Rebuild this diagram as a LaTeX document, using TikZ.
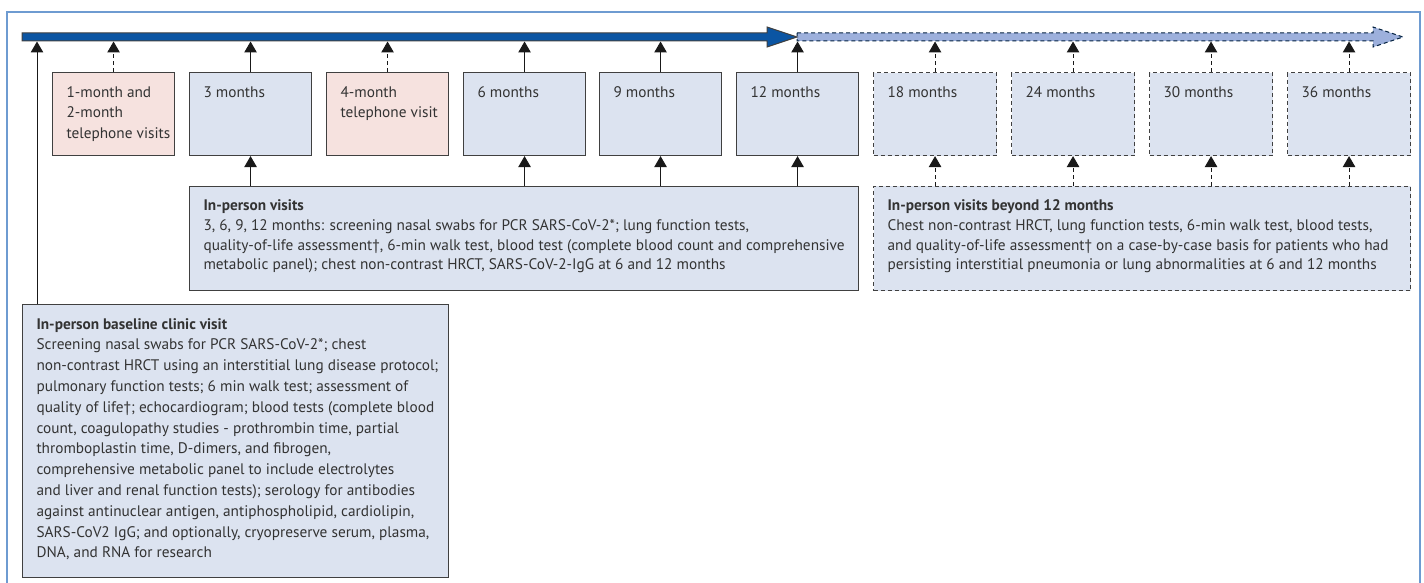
\documentclass[tikz,border=0pt]{standalone}
\usepackage{fontspec}
\setmainfont{PT Sans}
\usetikzlibrary{arrows.meta}
\definecolor{boxblue}{HTML}{DCE3F0}
\definecolor{boxpink}{HTML}{F6E2DF}
\definecolor{bordergray}{HTML}{404040}
\definecolor{txtgray}{HTML}{333333}
\definecolor{bardark}{HTML}{0B55A3}
\definecolor{barlight}{HTML}{9DB0DC}
\definecolor{framecol}{HTML}{6E9BD1}
% height, width, font size, leading, text
\newcommand\bxt[5]{\parbox[c][#1][t]{#2}{\leftskip=14pt\rightskip=-60pt plus 1fil\parindent=0pt\fontsize{#3}{#4}\selectfont\rule{0pt}{24.5pt}#5}}
\tikzset{
  box/.style={draw=bordergray, line width=1.1pt, fill=boxblue, inner sep=0pt, anchor=north west, text=txtgray},
  pinkbox/.style={box, fill=boxpink},
  dbox/.style={box, dash pattern=on 4pt off 3pt},
  arr/.style={draw=black!90, line width=1pt, -{Triangle[length=11pt,width=12.5pt]}},
  darr/.style={arr, dash pattern=on 4pt off 3pt},
  framel/.style={draw=framecol, line width=1.6pt},
}
\begin{document}
\begin{tikzpicture}[x=1pt,y=-1pt]
\useasboundingbox (0,0) rectangle (1424,583);
% outer frame
\draw[framel] (7,583) -- (7,12) -- (1420,12) -- (1420,583);
% timeline bars
\draw[draw=bardark!40!black, line width=1pt, fill=barlight, dash pattern=on 4pt off 3pt]
  (797,33) -- (1373,33) -- (1373,27) -- (1403,37) -- (1373,47) -- (1373,41) -- (797,41) -- cycle;
\draw[draw=black!75, line width=1pt, fill=bardark]
  (22,33) -- (767,33) -- (767,27) -- (797,37) -- (767,47) -- (767,41) -- (22,41) -- cycle;
\coordinate (barbot) at (0,41.5);
% month boxes
\node[pinkbox] (m1) at (52,72) {\bxt{83pt}{122pt}{15.3}{20.8}{1-month and\\2-month\\telephone visits}};
\node[box] (m2) at (189,72) {\bxt{83pt}{122pt}{15.3}{20.8}{3 months}};
\node[pinkbox] (m3) at (326,72) {\bxt{83pt}{122pt}{15.3}{20.8}{4-month\\telephone visit}};
\node[box] (m4) at (463,72) {\bxt{83pt}{122pt}{15.3}{20.8}{6 months}};
\node[box] (m5) at (599,72) {\bxt{83pt}{122pt}{15.3}{20.8}{9 months}};
\node[box] (m6) at (736,72) {\bxt{83pt}{122pt}{15.3}{20.8}{12 months}};
\node[dbox] (m7) at (873,72) {\bxt{83pt}{123pt}{15.3}{20.8}{18 months}};
\node[dbox] (m8) at (1011,72) {\bxt{83pt}{123pt}{15.3}{20.8}{24 months}};
\node[dbox] (m9) at (1149,72) {\bxt{83pt}{123pt}{15.3}{20.8}{30 months}};
\node[dbox] (m10) at (1287,72) {\bxt{83pt}{123pt}{15.3}{20.8}{36 months}};
% in-person visits
\node[box] (ip) at (189,185.5) {\bxt{104.5pt}{669pt}{15.3}{19.8}{\textbf{In-person visits}\\3, 6, 9, 12 months: screening nasal swabs for PCR SARS-CoV-2*; lung function tests,\\quality-of-life assessment†, 6-min walk test, blood test (complete blood count and comprehensive\\metabolic panel); chest non-contrast HRCT, SARS-CoV-2-IgG at 6 and 12 months}};
\node[dbox] (bt) at (873,185.5) {\bxt{104.5pt}{537pt}{15.3}{19.8}{\textbf{In-person visits beyond 12 months}\\Chest non-contrast HRCT, lung function tests, 6-min walk test, blood tests,\\and quality-of-life assessment† on a case-by-case basis for patients who had\\persisting interstitial pneumonia or lung abnormalities at 6 and 12 months}};
% baseline
\node[box] (bl) at (22,304) {\bxt{273pt}{426pt}{15.3}{20.8}{\textbf{In-person baseline clinic visit}\\Screening nasal swabs for PCR SARS-CoV-2*; chest\\non-contrast HRCT using an interstitial lung disease protocol;\\pulmonary function tests; 6 min walk test; assessment of\\quality of life†; echocardiogram; blood tests (complete blood\\count, coagulopathy studies - prothrombin time, partial\\thromboplastin time, D-dimers, and fibrogen,\\comprehensive metabolic panel to include electrolytes\\and liver and renal function tests); serology for antibodies\\against antinuclear antigen, antiphospholipid, cardiolipin,\\SARS-CoV2 IgG; and optionally, cryopreserve serum, plasma,\\DNA, and RNA for research}};
% arrows to timeline
\draw[arr] ([xshift=15pt]bl.north west) coordinate (lv) -- (lv |- barbot);
\draw[darr] (m1.north) -- (m1.north |- barbot);
\draw[arr] (m2.north) -- (m2.north |- barbot);
\draw[darr] (m3.north) -- (m3.north |- barbot);
\draw[arr] (m4.north) -- (m4.north |- barbot);
\draw[arr] (m5.north) -- (m5.north |- barbot);
\draw[arr] (m6.north) -- (m6.north |- barbot);
\draw[darr] (m7.north) -- (m7.north |- barbot);
\draw[darr] (m8.north) -- (m8.north |- barbot);
\draw[darr] (m9.north) -- (m9.north |- barbot);
\draw[darr] (m10.north) -- (m10.north |- barbot);
% arrows from visit boxes to month boxes
\draw[arr] (ip.north -| m2.south) -- (m2.south);
\draw[arr] (ip.north -| m4.south) -- (m4.south);
\draw[arr] (ip.north -| m5.south) -- (m5.south);
\draw[arr] (ip.north -| m6.south) -- (m6.south);
\draw[darr] (bt.north -| m7.south) -- (m7.south);
\draw[darr] (bt.north -| m8.south) -- (m8.south);
\draw[darr] (bt.north -| m9.south) -- (m9.south);
\draw[darr] (bt.north -| m10.south) -- (m10.south);
\end{tikzpicture}
\end{document}
